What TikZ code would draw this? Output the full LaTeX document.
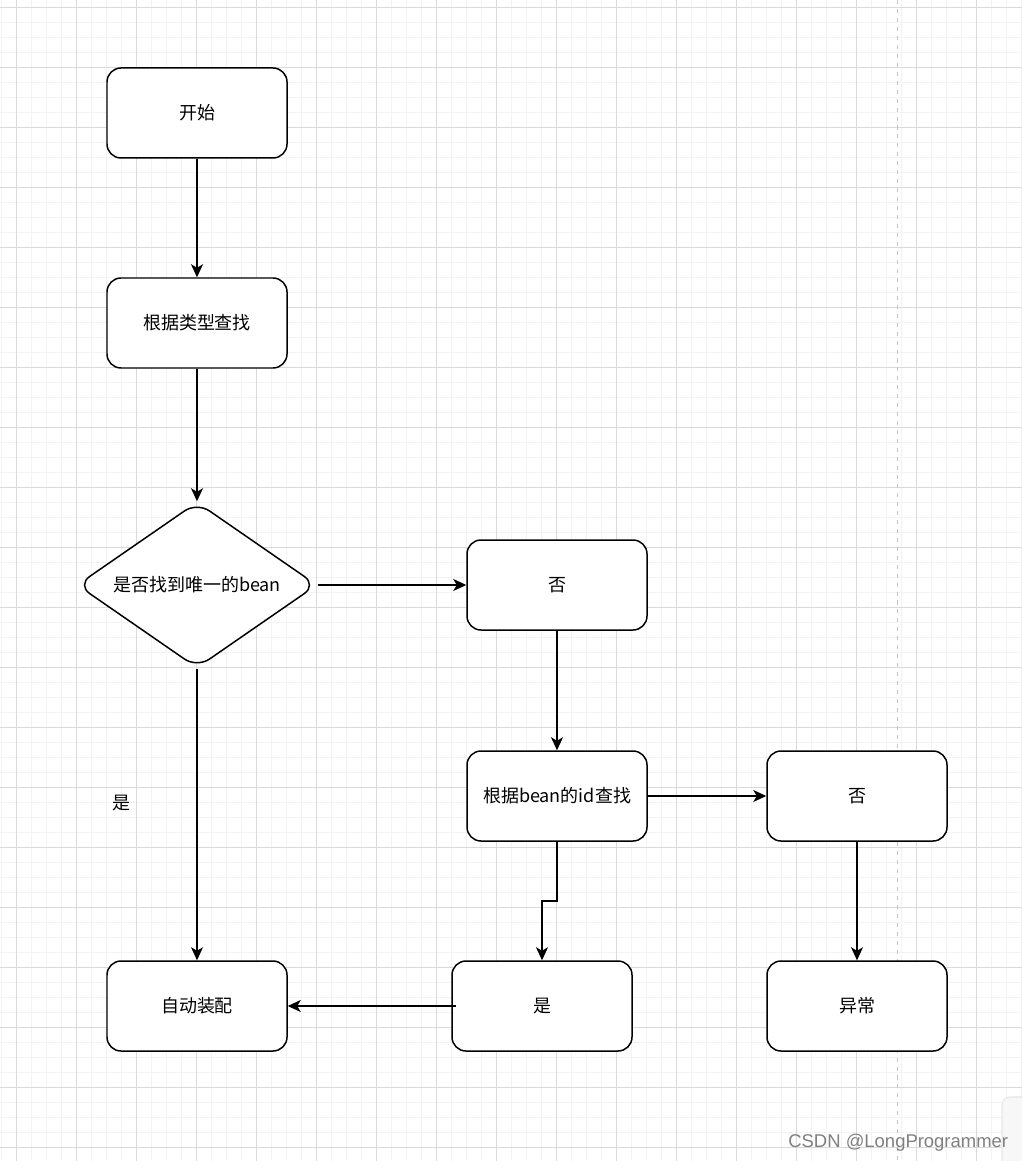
\documentclass[tikz,border=0pt]{standalone}
\usepackage{fontspec}
\newfontfamily\cjk{Noto Sans CJK SC}
\newfontfamily\wmfont{Liberation Sans}
\usetikzlibrary{arrows.meta,shapes.geometric}
\definecolor{gridmajor}{HTML}{DADADA}
\definecolor{gridminor}{HTML}{F3F3F3}
\definecolor{pagebreak}{HTML}{C4C4C4}

\begin{document}
\begin{tikzpicture}[
  box/.style={draw, line width=0.85pt, fill=white, rounded corners=0.28cm,
    minimum width=3.6cm, minimum height=1.8cm, anchor=center,
    font=\cjk\fontsize{10.24pt}{12pt}\selectfont},
  decision/.style={draw, diamond, line width=0.85pt, fill=white, rounded corners=0.3cm,
    shape aspect=1.45, inner sep=0pt, minimum width=4.8cm, minimum height=3.32cm,
    anchor=center, font=\cjk\fontsize{10.24pt}{12pt}\selectfont},
  edge/.style={line width=0.85pt},
  >={Stealth[length=0.26cm,width=0.24cm,inset=0.07cm]}
]
\useasboundingbox (0,0) rectangle (20.44,-23.22);
\clip (0,0) rectangle (20.44,-23.22);
\fill[white] (0,0) rectangle (20.44,-23.22);

\foreach \i in {0,...,68}
  \draw[gridminor, line width=0.5pt] ({0.034+0.3*\i},0) -- ++(0,-23.22);
\foreach \i in {0,...,77}
  \draw[gridminor, line width=0.5pt] (0,{-0.146-0.3*\i}) -- ++(20.44,0);
\foreach \i in {0,...,16}
  \draw[gridmajor, line width=0.55pt] ({0.334+1.2*\i},0) -- ++(0,-23.22);
\foreach \i in {0,...,19}
  \draw[gridmajor, line width=0.55pt] (0,{-0.146-1.2*\i}) -- ++(20.44,0);

\draw[pagebreak, line width=0.6pt, dash pattern=on 2.3pt off 2.8pt] (17.954,0) -- (17.954,-23.22);

\node[box] (1) at (3.94,-2.26)
{开始};

\node[box] (2) at (3.94,-6.46)
{根据类型查找};

\node[decision] (3) at (3.94,-11.70)
{是否找到唯一的bean};

\node[box] (4) at (11.14,-11.70)
{否};

\node[box] (5) at (11.14,-15.92)
{根据bean的id查找};

\node[box] (6) at (17.14,-15.92)
{否};

\node[box] (7) at (3.94,-20.12)
{自动装配};

\node[box] (8) at (10.84,-20.12)
{是};

\node[box] (9) at (17.14,-20.12)
{异常};

\coordinate (b) at (10.84,-18.02);


\draw[->,edge] (1) -- (2);

\draw[->,edge] (2) -- (3);

\draw[->,edge] (3) -- (4);

\draw[->,edge] (3) -- (7);

\draw[->,edge] (4) -- (5);

\draw[->,edge] (5) -- (6);

\draw[->,edge] (5) |- (b) -- (8);

\draw[->,edge] ([xshift=0.1cm]8.west) -- (7);

\draw[->,edge] (6) -- (9);

\node[anchor=center, font=\cjk\fontsize{10.24pt}{12pt}\selectfont] (10) at (2.43,-16.06)
{是};

\draw[fill=black!3, draw=black!10, line width=0.6pt, rounded corners=0.16cm] (20.04,-21.94) rectangle (20.9,-23.6);

\node[anchor=base west, inner sep=0pt, text=black!50, font=\wmfont\fontsize{10.5pt}{12pt}\selectfont] (11) at (15.76,-22.94)
{CSDN @LongProgrammer};
\end{tikzpicture}
\end{document}
